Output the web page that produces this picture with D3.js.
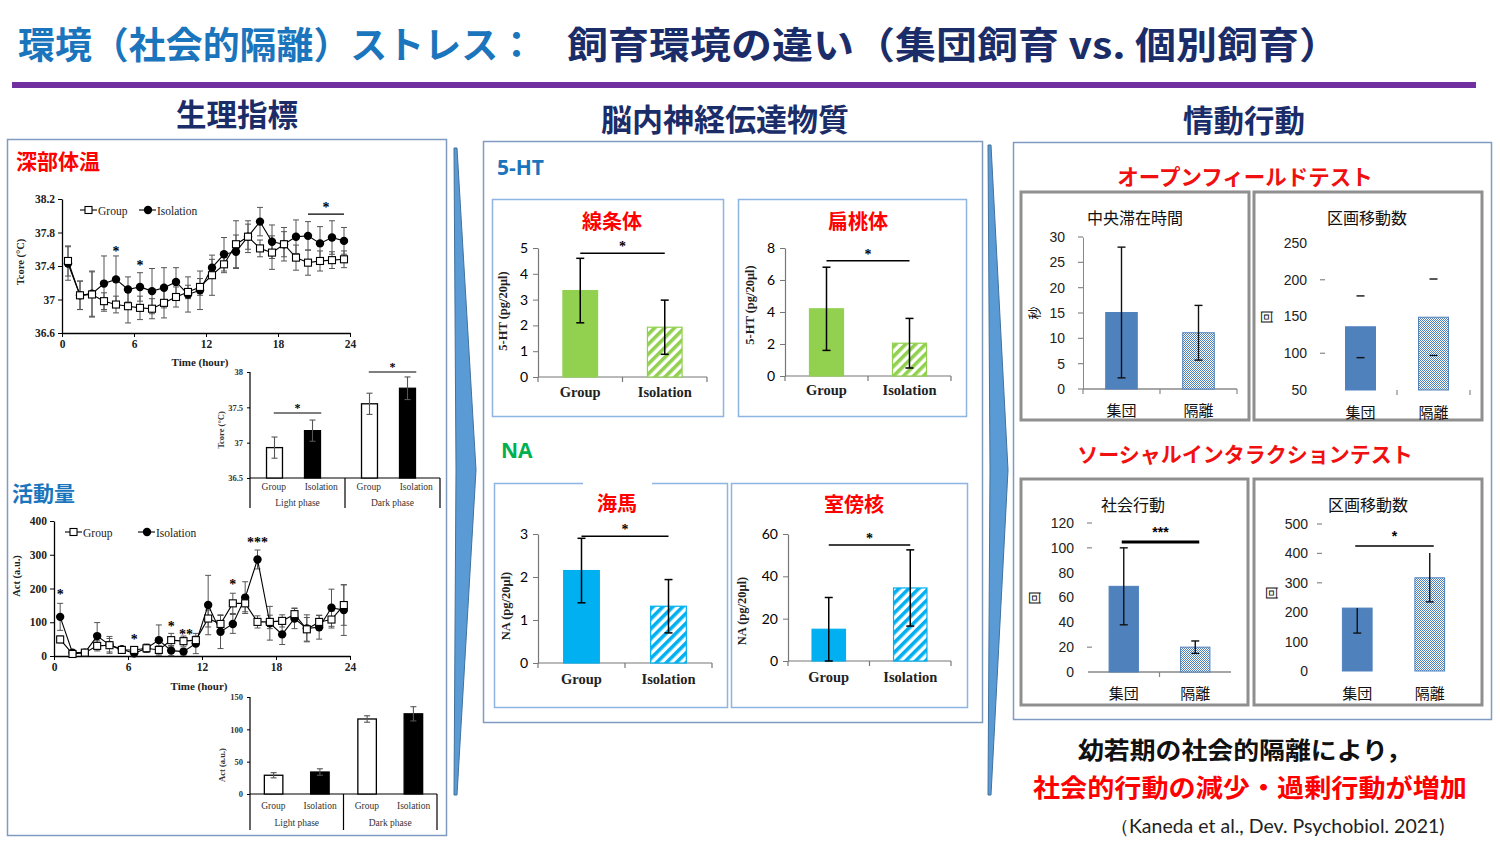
<!DOCTYPE html>
<html><head><meta charset="utf-8">
<script src="https://cdn.jsdelivr.net/npm/d3@7/dist/d3.min.js"></script>
<style>html,body{margin:0;padding:0;background:#fff;}svg{display:block;}</style>
</head><body>
<svg id="chart" width="1500" height="859"></svg>
<script>
// ---------------- DATA ----------------
const hours = [0.5,1.5,2.5,3.5,4.5,5.5,6.5,7.5,8.5,9.5,10.5,11.5,12.5,13.5,14.5,15.5,16.5,17.5,18.5,19.5,20.5,21.5,22.5,23.5];
const hourTicks = [0,6,12,18,24];
const lineSeries = ["Group","Isolation"];

const tempTicks = [36.6,37,37.4,37.8,38.2];
const tempGroup = [37.46,37.05,37.06,36.98,36.94,36.92,36.90,36.89,36.96,37.03,37.09,37.15,37.29,37.42,37.66,37.75,37.61,37.56,37.66,37.50,37.44,37.46,37.47,37.48];
const tempGroupErr = [0.18,0.17,0.27,0.10,0.10,0.20,0.14,0.12,0.18,0.12,0.08,0.10,0.24,0.10,0.28,0.15,0.10,0.20,0.15,0.15,0.15,0.12,0.10,0.10];
const tempIso = [37.43,37.05,37.07,37.19,37.24,37.12,37.15,37.10,37.14,37.21,37.06,37.11,37.38,37.54,37.57,37.75,37.93,37.69,37.66,37.75,37.76,37.67,37.74,37.70];
const tempIsoErr = [0.20,0.17,0.27,0.33,0.28,0.15,0.17,0.27,0.24,0.17,0.21,0.23,0.10,0.20,0.20,0.19,0.17,0.20,0.20,0.20,0.17,0.20,0.20,0.16];
const tempStars = [{h:4.5,v:37.61,s:"*"},{h:6.5,v:37.44,s:"*"}];
const tempSigBar = {h0:20.5,h1:23.5,v:38.02,s:"*"};

const actTicks = [0,100,200,300,400];
const actGroup = [49,6,10,30,32,18,18,23,18,47,44,47,111,95,156,156,101,101,104,124,79,101,108,151];
const actGroupErr = [10,5,8,15,20,8,10,12,12,20,15,12,25,25,30,25,18,20,18,18,35,20,25,60];
const actIso = [116,10,10,59,33,20,8,23,47,16,13,37,151,72,95,173,286,97,64,111,82,85,143,136];
const actIsoErr = [40,5,8,40,25,8,10,12,45,15,10,30,88,50,28,47,28,50,30,30,40,35,55,75];
const actStars = [{h:0.5,v:190,s:"*"},{h:6.5,v:56,s:"*"},{h:9.5,v:95,s:"*"},{h:10.7,v:71,s:"**"},{h:14.5,v:219,s:"*"},{h:16.5,v:344,s:"***"}];

const phases = ["Light phase","Dark phase"];
const groups = ["Group","Isolation"];
const tempPhase = [36.93,37.17,37.55,37.77];
const tempPhaseErr = [0.15,0.15,0.15,0.16];
const tempPhaseTicks = [36.5,37,37.5,38];
const tempPhaseSig = [{phase:"Light phase",v:37.42,s:"*"},{phase:"Dark phase",v:38.0,s:"*"}];
const actPhase = [29,34,116,124];
const actPhaseErr = [4,5,5,11];
const actPhaseTicks = [0,50,100,150];

const htStriatum = [3.35,1.93], htStriatumErr = [1.25,1.05];
const htAmygdala = [4.2,2.05], htAmygdalaErr = [2.6,1.55];
const naHippo = [2.15,1.32], naHippoErr = [0.75,0.62];
const naPVN = [15,34.5], naPVNErr = [15,18];

const jpGroups = ["集団","隔離"];
const centerTime = [15.1,11.1], centerTimeErr = [12.9,5.4];
const ofMoves = [136,149], ofMovesErr = [42,52];
const socialBeh = [69,20], socialBehErr = [31,5];
const siMoves = [214,317], siMovesErrUp = [0,84], siMovesErrDown = [85,82];

// ---------------- SETUP ----------------
const svg = d3.select("#chart");
const JP = "'Noto Sans CJK JP','Noto Sans CJK SC',sans-serif";
const SERIF = "'Liberation Serif','DejaVu Serif',serif";
const SANS = "'Liberation Sans',Arial,sans-serif";
const CAL = "Lato,'Open Sans',sans-serif";
const RED = "#ff0000", BLUE_T = "#1b75bc", NAVY = "#1b2d69";
const GREEN = "#92d050", CYAN = "#00b0f0", STEEL = "#4f81bd";

const defs = svg.append("defs");
function hatch(id, color){
  const p = defs.append("pattern").attr("id",id).attr("patternUnits","userSpaceOnUse")
    .attr("width",7).attr("height",7).attr("patternTransform","rotate(45)");
  p.append("rect").attr("width",7).attr("height",7).attr("fill","#fff");
  p.append("rect").attr("width",3.6).attr("height",7).attr("fill",color);
}
hatch("hGreen",GREEN); hatch("hCyan",CYAN);
const dp = defs.append("pattern").attr("id","dots").attr("patternUnits","userSpaceOnUse").attr("width",2).attr("height",2);
dp.append("rect").attr("width",2).attr("height",2).attr("fill","#fff");
dp.append("rect").attr("width",1).attr("height",1).attr("fill",STEEL);
dp.append("rect").attr("x",1).attr("y",1).attr("width",1).attr("height",1).attr("fill",STEEL);

function txt(g,x,y,s,o){
  const t = g.append("text").attr("x",x).attr("y",y).text(s)
    .attr("font-family",o.f||JP).attr("font-size",o.s).attr("font-weight",o.w||400)
    .attr("fill",o.c||"#000").attr("text-anchor",o.a||"start").attr("dominant-baseline",o.b||"central");
  if(o.tl) t.attr("textLength",o.tl).attr("lengthAdjust","spacingAndGlyphs");
  if(o.rot) t.attr("transform",`rotate(-90,${x},${y})`);
  return t;
}
function star(g,x,yc,s,size,font){
  return g.append("text").attr("x",x).attr("y",yc+size*0.52).text(s).attr("text-anchor","middle")
    .attr("font-family",font||SERIF).attr("font-size",size).attr("font-weight",700).attr("fill","#000");
}
function styleAxis(a,o){
  a.selectAll("text").attr("font-family",o.f).attr("font-size",o.s).attr("font-weight",o.w||400).attr("fill",o.c||"#000");
  a.selectAll(".tick line").attr("stroke",o.lc||"#000");
  a.select(".domain").attr("stroke",o.lc||"#000").attr("stroke-width",o.lw||1);
}

// ---------------- HEADER ----------------
txt(svg,18,43,"環境（社会的隔離）ストレス：",{s:37,w:700,c:BLUE_T,tl:517});
txt(svg,567,43,"飼育環境の違い（集団飼育 vs. 個別飼育）",{s:37,w:700,c:NAVY,tl:773});
svg.append("rect").attr("x",12).attr("y",82).attr("width",1464).attr("height",6).attr("fill","#7030a0");
txt(svg,237,113,"生理指標",{s:30.5,w:700,c:NAVY,a:"middle"});
txt(svg,725,117,"脳内神経伝達物質",{s:31,w:700,c:NAVY,a:"middle"});
txt(svg,1244,119,"情動行動",{s:30.5,w:700,c:NAVY,a:"middle"});

// panels
const panelStroke = "#7f9cc0";
svg.append("rect").attr("x",7.5).attr("y",139.5).attr("width",439).attr("height",696).attr("fill","none").attr("stroke",panelStroke).attr("stroke-width",1.5);
svg.append("rect").attr("x",483.5).attr("y",141.5).attr("width",499).attr("height",581).attr("fill","none").attr("stroke",panelStroke).attr("stroke-width",1.5);
svg.append("rect").attr("x",1013.5).attr("y",142.5).attr("width",478).attr("height",577).attr("fill","none").attr("stroke",panelStroke).attr("stroke-width",1.5);
// chevrons
[[454,148,476,470,795],[988,145,1008,470,795]].forEach(([x,y0,xp,ym,y1])=>{
  svg.append("polygon").attr("points",`${x},${y0} ${x+3},${y0} ${xp},${ym} ${x+3},${y1} ${x},${y1} ${x+2},${ym}`)
    .attr("fill","#5b9bd5").attr("stroke","#41719c").attr("stroke-width",1);
});

// ---------------- LEFT: LINE CHARTS ----------------
function lineChart(c){
  const g = svg.append("g");
  const x = d3.scaleLinear().domain([0,24]).range(c.xr);
  const y = d3.scaleLinear().domain(c.yd).range(c.yr);
  const xa = g.append("g").attr("transform",`translate(0,${c.yr[0]})`)
    .call(d3.axisBottom(x).tickValues(hourTicks).tickSize(4).tickSizeOuter(0).tickPadding(3).tickFormat(d=>String(d)));
  const ya = g.append("g").attr("transform",`translate(${c.xr[0]},0)`)
    .call(d3.axisLeft(y).tickValues(c.yt).tickSize(4).tickSizeOuter(0).tickPadding(3).tickFormat(d=>String(d)));
  styleAxis(xa,{f:SERIF,s:11.5,w:700,c:"#222",lw:1.3});
  styleAxis(ya,{f:SERIF,s:11.5,w:700,c:"#222",lw:1.3});
  const ser = [{v:c.g,e:c.ge,open:true},{v:c.i,e:c.ie,open:false}];
  ser.forEach(s=>{
    const eg = g.append("g").attr("stroke","#555").attr("stroke-width",1);
    hours.forEach((h,k)=>{
      const cx = x(h), a = y(s.v[k]+s.e[k]), b = y(s.v[k]-s.e[k]);
      eg.append("line").attr("x1",cx).attr("x2",cx).attr("y1",a).attr("y2",b);
      eg.append("line").attr("x1",cx-3).attr("x2",cx+3).attr("y1",a).attr("y2",a);
      eg.append("line").attr("x1",cx-3).attr("x2",cx+3).attr("y1",b).attr("y2",b);
    });
  });
  const line = d3.line().x((d,k)=>x(hours[k])).y(d=>y(d));
  ser.forEach(s=>g.append("path").attr("d",line(s.v)).attr("fill","none").attr("stroke","#000").attr("stroke-width",1.1));
  ser.slice().reverse().forEach(s=>{
    s.v.forEach((v,k)=>{
      if(s.open) g.append("rect").attr("x",x(hours[k])-3.5).attr("y",y(v)-3.5).attr("width",7).attr("height",7).attr("fill","#fff").attr("stroke","#000").attr("stroke-width",1.1);
      else g.append("circle").attr("cx",x(hours[k])).attr("cy",y(v)).attr("r",4.2).attr("fill","#000");
    });
  });
  const L = c.leg;
  lineSeries.forEach((name,k)=>{
    const lx = L.x[k];
    g.append("line").attr("x1",lx).attr("x2",lx+17).attr("y1",L.y).attr("y2",L.y).attr("stroke","#000").attr("stroke-width",1.1);
    if(k===0) g.append("rect").attr("x",lx+5).attr("y",L.y-3.5).attr("width",7).attr("height",7).attr("fill","#fff").attr("stroke","#000").attr("stroke-width",1.1);
    else g.append("circle").attr("cx",lx+9).attr("cy",L.y).attr("r",4.2).attr("fill","#000");
    txt(g,lx+18,L.y+1,name,{f:SERIF,s:11.5,w:400,c:"#222"});
  });
  txt(g,c.xtitle[0],c.xtitle[1],"Time (hour)",{f:SERIF,s:11,w:700,a:"middle",c:"#222"});
  txt(g,c.ytitle[0],c.ytitle[1],c.ylab,{f:SERIF,s:10.5,w:700,a:"middle",rot:true,c:"#222"});
  return {g,x,y};
}

txt(svg,16,160,"深部体温",{s:21,w:700,c:RED});
const T = lineChart({xr:[62,350],yr:[333,199],yd:[36.6,38.2],yt:tempTicks,g:tempGroup,ge:tempGroupErr,i:tempIso,ie:tempIsoErr,
  leg:{x:[80,139],y:210},xtitle:[200,362],ytitle:[20,262],ylab:"Tcore (°C)"});
tempStars.forEach(d=>star(T.g,T.x(d.h),T.y(d.v),d.s,14));
T.g.append("line").attr("x1",T.x(tempSigBar.h0)).attr("x2",T.x(tempSigBar.h1)).attr("y1",T.y(tempSigBar.v)).attr("y2",T.y(tempSigBar.v)).attr("stroke","#000").attr("stroke-width",1.2);
star(T.g,(T.x(tempSigBar.h0)+T.x(tempSigBar.h1))/2,T.y(tempSigBar.v)-9,"*",14);

txt(svg,12,492,"活動量",{s:21,w:700,c:BLUE_T});
const A = lineChart({xr:[54,350],yr:[656,521],yd:[0,400],yt:actTicks,g:actGroup,ge:actGroupErr,i:actIso,ie:actIsoErr,
  leg:{x:[65,138],y:532},xtitle:[199,686],ytitle:[16,576],ylab:"Act (a.u.)"});
actStars.forEach(d=>star(A.g,A.x(d.h),A.y(d.v),d.s,14));

// ---------------- LEFT: PHASE BAR CHARTS ----------------
function phaseChart(c){
  const g = svg.append("g");
  const px = d3.scaleBand().domain(phases).range(c.xr);
  const bx = d3.scaleBand().domain(groups).range(c.inner).paddingInner(c.pi).paddingOuter(c.po);
  const lx = d3.scaleBand().domain(groups).range([0,px.step()]);
  const y = d3.scaleLinear().domain(c.yd).range(c.yr);
  const ya = g.append("g").attr("transform",`translate(${c.xr[0]},0)`)
    .call(d3.axisLeft(y).tickValues(c.yt).tickSize(3).tickPadding(4).tickSizeOuter(0).tickFormat(d=>String(d)));
  styleAxis(ya,{f:SERIF,s:8.5,w:700,c:"#333"});
  ya.select(".domain").remove();
  g.append("line").attr("x1",c.xr[0]).attr("x2",c.xr[0]).attr("y1",c.yr[1]).attr("y2",c.bottom).attr("stroke","#000").attr("stroke-width",1.2);
  g.append("line").attr("x1",c.xr[0]).attr("x2",c.xr[1]).attr("y1",c.yr[0]).attr("y2",c.yr[0]).attr("stroke","#000").attr("stroke-width",1.2);
  phases.forEach(p=>g.append("line").attr("x1",px(p)+px.step()).attr("x2",px(p)+px.step()).attr("y1",c.yr[0]).attr("y2",c.bottom).attr("stroke","#000").attr("stroke-width",1.2));
  phases.forEach((p,i)=>{
    groups.forEach((gr,k)=>{
      const idx=i*2+k, v=c.vals[idx], e=c.errs[idx];
      const x0 = px(p)+bx(gr), w=bx.bandwidth(), cx=x0+w/2;
      g.append("rect").attr("x",x0).attr("y",y(v)).attr("width",w).attr("height",y(c.yd[0])-y(v))
        .attr("fill",k?"#000":"#fff").attr("stroke","#000").attr("stroke-width",1.3);
      const a=y(v+e), b=y(v-e);
      g.append("line").attr("x1",cx).attr("x2",cx).attr("y1",a).attr("y2",b).attr("stroke","#555").attr("stroke-width",1.1);
      g.append("line").attr("x1",cx-3).attr("x2",cx+3).attr("y1",a).attr("y2",a).attr("stroke","#555").attr("stroke-width",1.1);
      g.append("line").attr("x1",cx-3).attr("x2",cx+3).attr("y1",b).attr("y2",b).attr("stroke","#555").attr("stroke-width",1.1);
      txt(g,px(p)+lx(gr)+lx.bandwidth()/2,c.catY,gr,{f:SERIF,s:9.5,w:400,a:"middle",c:"#333"});
    });
    txt(g,px(p)+px.step()/2,c.phY,p,{f:SERIF,s:9.5,w:400,a:"middle",c:"#333"});
  });
  (c.sig||[]).forEach(d=>{
    const x1 = px(d.phase)+lx("Group")+lx.bandwidth()/2, x2 = px(d.phase)+lx("Isolation")+lx.bandwidth()/2;
    g.append("line").attr("x1",x1).attr("x2",x2).attr("y1",y(d.v)).attr("y2",y(d.v)).attr("stroke","#000").attr("stroke-width",1.1);
    star(g,(x1+x2)/2,y(d.v)-7,d.s,12);
  });
  txt(g,c.ytitle[0],c.ytitle[1],c.ylab,{f:SERIF,s:8.5,w:700,a:"middle",rot:true,c:"#333"});
}
phaseChart({xr:[250,440],inner:[-4,91],pi:0.58,po:0.54,yr:[478,372],yd:[36.5,38],yt:tempPhaseTicks,bottom:508,
  vals:tempPhase,errs:tempPhaseErr,catY:487,phY:503,sig:tempPhaseSig,ytitle:[221,430],ylab:"Tcore (°C)"});
phaseChart({xr:[250,437],inner:[0,93.5],pi:0.6,po:0.31,yr:[794,697],yd:[0,150],yt:actPhaseTicks,bottom:830,
  vals:actPhase,errs:actPhaseErr,catY:806,phY:823,sig:[],ytitle:[222,765],ylab:"Act (a.u.)"});

// ---------------- MIDDLE: NEUROTRANSMITTERS ----------------
txt(svg,497,167,"5-HT",{f:"'Open Sans',sans-serif",s:21,w:700,c:BLUE_T});
txt(svg,501,450,"NA",{f:"'Open Sans',sans-serif",s:21,w:700,c:"#00b050"});
const subStroke = "#8db4e2";
[[492,199,231,217],[738,199,228,217],[494,483,233,224],[731,483,236,224]].forEach(([x,y,w,h])=>{
  svg.append("rect").attr("x",x+0.5).attr("y",y+0.5).attr("width",w).attr("height",h).attr("fill","none").attr("stroke",subStroke).attr("stroke-width",1.5);
});
svg.append("rect").attr("x",583).attr("y",480).attr("width",69).attr("height",8).attr("fill","#fff");

function neuroChart(c){
  const g = svg.append("g");
  const x = d3.scaleBand().domain(groups).range(c.xr);
  const y = d3.scaleLinear().domain(c.yd).range(c.yr);
  const ya = g.append("g").attr("transform",`translate(${c.xr[0]},0)`)
    .call(d3.axisLeft(y).tickValues(c.yt).tickSize(5).tickSizeOuter(0).tickPadding(5).tickFormat(d=>String(d)));
  styleAxis(ya,{f:CAL,s:14,w:400,c:"#000",lc:"#777",lw:1.2});
  g.append("line").attr("x1",c.xr[0]).attr("x2",c.xr[1]).attr("y1",c.yr[0]).attr("y2",c.yr[0]).attr("stroke","#777").attr("stroke-width",1.2);
  [c.xr[0],c.xr[0]+x.step(),c.xr[1]].forEach(t=>g.append("line").attr("x1",t).attr("x2",t).attr("y1",c.yr[0]).attr("y2",c.yr[0]+5).attr("stroke","#777").attr("stroke-width",1.2));
  const w = x.step()*0.41;
  groups.forEach((gr,k)=>{
    const cx = x(gr)+x.step()/2, v=c.vals[k], e=c.errs[k];
    g.append("rect").attr("x",cx-w/2).attr("y",y(v)).attr("width",w).attr("height",y(0)-y(v))
      .attr("fill",k?`url(#${c.pat})`:c.color).attr("stroke",c.color).attr("stroke-width",1.2);
    const a=y(v+e), b=y(v-e);
    g.append("line").attr("x1",cx).attr("x2",cx).attr("y1",a).attr("y2",b).attr("stroke","#000").attr("stroke-width",1.5);
    g.append("line").attr("x1",cx-4).attr("x2",cx+4).attr("y1",a).attr("y2",a).attr("stroke","#000").attr("stroke-width",1.5);
    g.append("line").attr("x1",cx-4).attr("x2",cx+4).attr("y1",b).attr("y2",b).attr("stroke","#000").attr("stroke-width",1.5);
    txt(g,cx,c.catY,gr,{f:SERIF,s:14.5,w:700,a:"middle",c:"#222"});
  });
  const x1 = x("Group")+x.step()/2, x2 = x("Isolation")+x.step()/2, sy = y(c.sig);
  g.append("line").attr("x1",x1).attr("x2",x2).attr("y1",sy).attr("y2",sy).attr("stroke","#000").attr("stroke-width",1.5);
  star(g,(x1+x2)/2,sy-9,"*",14);
  txt(g,c.ylx,c.yly,c.ylab,{f:SERIF,s:12.5,w:700,a:"middle",rot:true,c:"#222"});
  txt(g,c.title[0],c.title[1],c.title[2],{s:20,w:700,c:RED,a:"middle"});
}
neuroChart({xr:[538,707],yr:[377,248],yd:[0,5],yt:[0,1,2,3,4,5],vals:htStriatum,errs:htStriatumErr,color:GREEN,pat:"hGreen",
  sig:4.8,catY:392,ylx:503,yly:311,ylab:"5-HT (pg/20μl)",title:[612,220,"線条体"]});
neuroChart({xr:[785,951],yr:[376,248],yd:[0,8],yt:[0,2,4,6,8],vals:htAmygdala,errs:htAmygdalaErr,color:GREEN,pat:"hGreen",
  sig:7.2,catY:390,ylx:750,yly:305,ylab:"5-HT (pg/20μl)",title:[858,220,"扁桃体"]});
neuroChart({xr:[538,712],yr:[663,534],yd:[0,3],yt:[0,1,2,3],vals:naHippo,errs:naHippoErr,color:CYAN,pat:"hCyan",
  sig:2.95,catY:679,ylx:506,yly:606,ylab:"NA (pg/20μl)",title:[617,502,"海馬"]});
neuroChart({xr:[788,951],yr:[661,534],yd:[0,60],yt:[0,20,40,60],vals:naPVN,errs:naPVNErr,color:CYAN,pat:"hCyan",
  sig:54.8,catY:677,ylx:742,yly:611,ylab:"NA (pg/20μl)",title:[854,503,"室傍核"]});

// ---------------- RIGHT: BEHAVIOR ----------------
txt(svg,1245,175,"オープンフィールドテスト",{s:21.5,w:700,c:"#f01010",a:"middle"});
txt(svg,1245,453,"ソーシャルインタラクションテスト",{s:21,w:700,c:"#f01010",a:"middle"});
[[1021,192,228,228],[1254,192,228,228],[1021,479,227,226],[1254,479,228,226]].forEach(([x,y,w,h])=>{
  svg.append("rect").attr("x",x).attr("y",y).attr("width",w).attr("height",h).attr("fill","#fff").attr("stroke","#8f8f8f").attr("stroke-width",3);
});

function behChart(c){
  const g = svg.append("g");
  const x = d3.scaleBand().domain(jpGroups).range(c.xr);
  const y = d3.scaleLinear().domain(c.yd).range(c.yr);
  const ya = g.append("g").attr("transform",`translate(${c.ax},0)`)
    .call(d3.axisLeft(y).tickValues(c.yt).tickSize(0).tickSizeOuter(0).tickPadding(c.pad).tickFormat(d=>String(d)));
  styleAxis(ya,{f:SANS,s:14,w:400,c:"#222",lc:"#888"});
  if(!c.axisLine) ya.select(".domain").remove();
  c.marks.forEach(m=>g.append("line").attr("x1",c.ax-5).attr("x2",c.ax).attr("y1",y(m)).attr("y2",y(m)).attr("stroke","#888").attr("stroke-width",1.2));
  if(c.xLine) g.append("line").attr("x1",c.xr[0]).attr("x2",c.xr[1]).attr("y1",c.yr[0]).attr("y2",c.yr[0]).attr("stroke","#888").attr("stroke-width",1.3);
  c.xTicks.forEach(k=>{ const t=c.xr[0]+k*x.step(); g.append("line").attr("x1",t).attr("x2",t).attr("y1",c.yr[0]).attr("y2",c.yr[0]+5).attr("stroke","#888").attr("stroke-width",1.2); });
  const w = x.step()*0.41;
  const up = c.errUp||c.errs, dn = c.errDown||c.errs;
  jpGroups.forEach((gr,k)=>{
    const cx = x(gr)+x.step()/2, v=c.vals[k];
    g.append("rect").attr("x",cx-w/2).attr("y",y(v)).attr("width",w).attr("height",y(c.yd[0])-y(v))
      .attr("fill",k?"url(#dots)":STEEL).attr("stroke",STEEL).attr("stroke-width",1);
    const a=y(v+up[k]), b=y(v-dn[k]);
    if(!c.capsOnly) g.append("line").attr("x1",cx).attr("x2",cx).attr("y1",a).attr("y2",b).attr("stroke","#111").attr("stroke-width",1.4);
    if(!c.lowCapOnly) g.append("line").attr("x1",cx-4).attr("x2",cx+4).attr("y1",a).attr("y2",a).attr("stroke","#111").attr("stroke-width",1.4);
    g.append("line").attr("x1",cx-4).attr("x2",cx+4).attr("y1",b).attr("y2",b).attr("stroke","#111").attr("stroke-width",1.4);
    txt(g,cx,c.catY,gr,{s:15,w:400,a:"middle",c:"#111"});
  });
  if(c.sig){
    const x1 = x(jpGroups[0])+x.step()/2, x2 = x(jpGroups[1])+x.step()/2, sy=y(c.sig.v);
    g.append("line").attr("x1",x1-2).attr("x2",x2+4).attr("y1",sy).attr("y2",sy).attr("stroke","#000").attr("stroke-width",c.sig.lw);
    star(g,(x1+x2)/2+1,sy-12,c.sig.s,14,SANS);
  }
  txt(g,c.ylp[0],c.ylp[1],c.ylab,{s:13,w:400,a:"middle",rot:true,c:"#111"});
  txt(g,c.title[0],c.title[1],c.title[2],{s:16,w:400,a:"middle",c:"#111"});
}
behChart({xr:[1083,1237],yr:[389,237],yd:[0,30],yt:[0,5,10,15,20,25,30],ax:1083,pad:18,axisLine:true,marks:[0,5,10,15,20,25,30],
  xLine:true,xTicks:[0,1,2],vals:centerTime,errs:centerTimeErr,catY:409,ylp:[1033,313],ylab:"秒",title:[1135,217,"中央滞在時間"]});
behChart({xr:[1324,1470],yr:[390,243],yd:[50,250],yt:[50,100,150,200,250],ax:1325,pad:18,axisLine:false,marks:[100,200],
  xLine:false,xTicks:[1,2],capsOnly:true,vals:ofMoves,errs:ofMovesErr,catY:411,ylp:[1265,317],ylab:"回",title:[1367,217,"区画移動数"]});
behChart({xr:[1088,1231],yr:[672,523],yd:[0,120],yt:[0,20,40,60,80,100,120],ax:1092,pad:18,axisLine:false,marks:[20,100,120],
  xLine:true,xTicks:[1],vals:socialBeh,errs:socialBehErr,catY:692,ylp:[1033,598],ylab:"回",title:[1133,504,"社会行動"],
  sig:{v:104.7,s:"***",lw:3}});
behChart({xr:[1321,1466],yr:[671,524],yd:[0,500],yt:[0,100,200,300,400,500],ax:1322,pad:14,axisLine:false,marks:[300,400,500],
  xLine:false,xTicks:[],lowCapOnly:true,vals:siMoves,errUp:siMovesErrUp,errDown:siMovesErrDown,catY:692,ylp:[1270,593],ylab:"回",title:[1368,504,"区画移動数"],
  sig:{v:425,s:"*",lw:1.5}});

// ---------------- CONCLUSION ----------------
txt(svg,1245,748,"幼若期の社会的隔離により，",{s:24,w:700,c:"#111",a:"middle",tl:334});
txt(svg,1250,785,"社会的行動の減少・過剰行動が増加",{s:25.5,w:700,c:RED,a:"middle",tl:434});
txt(svg,1277,825,"（Kaneda et al., Dev. Psychobiol. 2021)",{f:CAL,s:19,w:400,c:"#222",a:"middle",tl:335});
</script>
</body></html>
